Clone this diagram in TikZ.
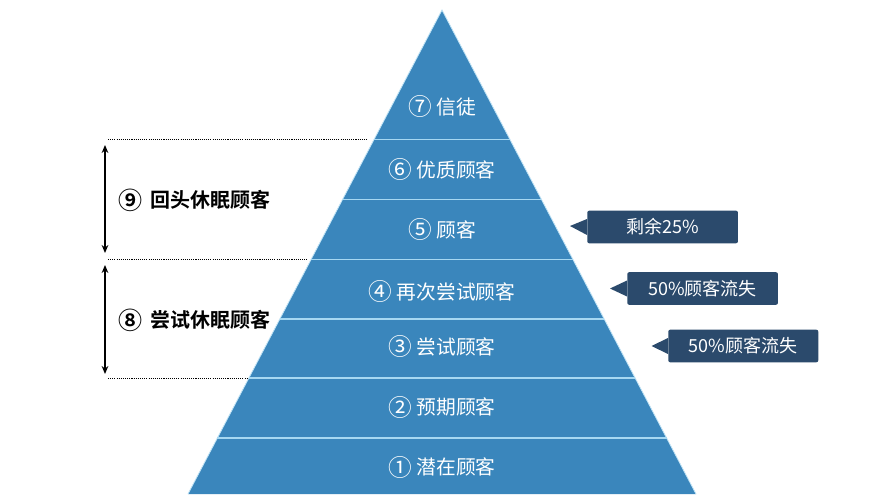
\documentclass[tikz,border=0pt]{standalone}
\usepackage{fontspec}
\usepackage{graphicx}
\setmainfont{Noto Sans CJK SC}
\newfontfamily\cjkb{Noto Sans CJK SC Bold}
\usetikzlibrary{arrows.meta}
\definecolor{pyr}{HTML}{3A86BC}
\definecolor{sep}{HTML}{A6D8F2}
\definecolor{callout}{HTML}{2B4A6C}
\newcommand{\circnum}[1]{\raisebox{-0.08em}{\scalebox{1.2}{#1}}}
\tikzset{
  bandtext/.style={text=white, font=\fontsize{14.8pt}{17pt}\selectfont, inner sep=0pt},
  sidelabel/.style={text=black, font=\cjkb\fontsize{15pt}{18pt}\selectfont, inner sep=0pt, anchor=west},
  calloutbox/.style={fill=callout, rounded corners=1.5pt, text=white, font=\fontsize{13.5pt}{16pt}\selectfont, minimum height=24.5pt, inner sep=0pt},
  guide/.style={black, dash pattern=on 0.8pt off 0.8pt, line width=0.9pt},
  dimarrow/.style={{Stealth[length=6pt,width=5pt]}-{Stealth[length=6pt,width=5pt]}, line width=1pt},
  seprule/.style={sep, line width=1.4pt}
}
\begin{document}
\begin{tikzpicture}[x=0.75pt,y=-0.75pt]
\useasboundingbox (0,0) rectangle (892,502);
\fill[white] (0,0) rectangle (892,502);
% pyramid
\coordinate (apex) at (442,10);
\coordinate (bl) at (188,494);
\coordinate (br) at (696,494);
\fill[pyr] (apex) -- (br) -- (bl) -- cycle;
\draw[sep!70!white, line width=0.6pt] (bl) -- (apex) -- (br);
% separators
\foreach \y in {139.5,199.5,259.5,319,378,438}{
  \pgfmathsetmacro{\dx}{(\y-10)/484*254}
  \draw[seprule] ({442-\dx},\y) -- ({442+\dx},\y);
}
% band labels
\node[bandtext] (b7) at (442,107) {\circnum{⑦} 信徒};
\node[bandtext] (b6) at (442,170) {\circnum{⑥} 优质顾客};
\node[bandtext] (b5) at (442,230) {\circnum{⑤} 顾客};
\node[bandtext] (b4) at (442,292) {\circnum{④} 再次尝试顾客};
\node[bandtext] (b3) at (442,347) {\circnum{③} 尝试顾客};
\node[bandtext] (b2) at (442,407) {\circnum{②} 预期顾客};
\node[bandtext] (b1) at (442,467) {\circnum{①} 潜在顾客};
% guides
\coordinate (g1a) at (108,139.5); \coordinate (g1b) at (367,139.5);
\coordinate (g2a) at (108,259.5); \coordinate (g2b) at (308,259.5);
\coordinate (g3a) at (108,378.5); \coordinate (g3b) at (247,378.5);
\draw[guide] (g1a) -- (g1b);
\draw[guide] (g2a) -- (g2b);
\draw[guide] (g3a) -- (g3b);
% dimension arrows
\coordinate (a1t) at (105,145); \coordinate (a1b) at (105,253);
\coordinate (a2t) at (105,265); \coordinate (a2b) at (105,374);
\draw[dimarrow] (a1t) -- (a1b);
\draw[dimarrow] (a2t) -- (a2b);
\node[sidelabel] (l9) at (118,200) {\circnum{⑨}\hspace{6pt}回头休眠顾客};
\node[sidelabel] (l8) at (118,320) {\circnum{⑧}\hspace{6pt}尝试休眠顾客};
% callouts
\node[calloutbox, minimum width=113pt, anchor=west] (c1) at (587,227) {剩余25\%};
\node[calloutbox, minimum width=113pt, anchor=west] (c2) at (627,288.5) {50\%顾客流失};
\node[calloutbox, minimum width=112.5pt, anchor=west] (c3) at (668,346) {50\%顾客流失};
\coordinate (t1) at (570,226);
\coordinate (t2) at (610,288.5);
\coordinate (t3) at (651.5,346);
\fill[callout] ([yshift=6pt]c1.west) -- (t1) -- ([yshift=-6pt]c1.west) -- cycle;
\fill[callout] ([yshift=6pt]c2.west) -- (t2) -- ([yshift=-6pt]c2.west) -- cycle;
\fill[callout] ([yshift=6pt]c3.west) -- (t3) -- ([yshift=-6pt]c3.west) -- cycle;
\end{tikzpicture}
\end{document}
